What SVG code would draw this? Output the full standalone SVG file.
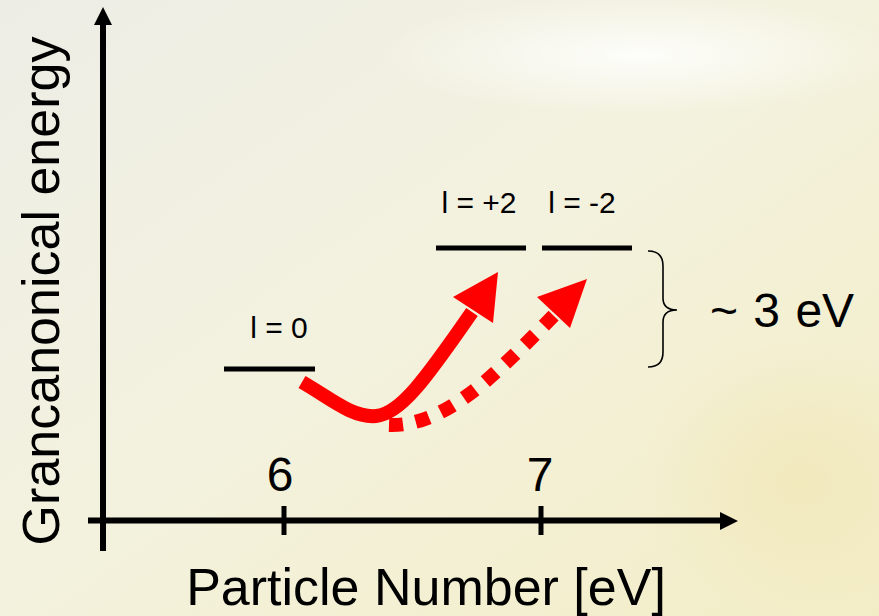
<svg xmlns="http://www.w3.org/2000/svg" width="879" height="616" viewBox="0 0 879 616">
  <defs>
    <linearGradient id="bg" x1="0" y1="0" x2="1" y2="1">
      <stop offset="0" stop-color="#EDEDE6"/>
      <stop offset="0.45" stop-color="#F3F2DF"/>
      <stop offset="1" stop-color="#F3EDC6"/>
    </linearGradient>
    <radialGradient id="glow" cx="0.5" cy="0.5" r="0.5">
      <stop offset="0" stop-color="#FFFFFF" stop-opacity="0.85"/>
      <stop offset="1" stop-color="#FFFFFF" stop-opacity="0"/>
    </radialGradient>
    <radialGradient id="warm" cx="0.5" cy="0.5" r="0.5">
      <stop offset="0" stop-color="#F1E7B8" stop-opacity="0.8"/>
      <stop offset="1" stop-color="#F1E7B8" stop-opacity="0"/>
    </radialGradient>
    <style>
      .ax { stroke: #000; stroke-width: 6; fill: none; }
      .tick { stroke: #000; stroke-width: 5; fill: none; }
      .lvl { stroke: #000; stroke-width: 5; fill: none; }
      .big { font-family: "Liberation Sans", Arial, sans-serif; font-size: 52px; fill: #000; }
      .num { font-family: "Liberation Sans", Arial, sans-serif; font-size: 48px; fill: #000; text-anchor: middle; }
      .lab { font-family: "Liberation Sans", Arial, sans-serif; font-size: 30px; fill: #000; text-anchor: middle; }
      .red { stroke: #FF0000; stroke-width: 14; fill: none; }
      .head { fill: #FF0000; }
    </style>
  </defs>

  <rect width="879" height="616" fill="url(#bg)"/>
  <ellipse cx="640" cy="55" rx="260" ry="60" fill="url(#glow)"/>
  <ellipse cx="800" cy="480" rx="160" ry="140" fill="url(#warm)"/>

  <g id="y-axis">
    <line class="ax" x1="103" y1="551" x2="103" y2="22"/>
    <polygon points="103,7 94,25 112,25" fill="#000"/>
    <text class="big" transform="translate(59,291) rotate(-90)" text-anchor="middle">Grancanonical energy</text>
  </g>

  <g id="x-axis">
    <line class="ax" x1="88" y1="520.5" x2="722" y2="520.5"/>
    <polygon points="738,521 720,512 720,530" fill="#000"/>
    <line class="tick" x1="284" y1="506" x2="284" y2="535"/>
    <line class="tick" x1="541" y1="506" x2="541" y2="535"/>
    <text class="num" x="280" y="491">6</text>
    <text class="num" x="540" y="491">7</text>
    <text class="big" x="426" y="605" text-anchor="middle">Particle Number [eV]</text>
  </g>

  <g id="level-l0">
    <line class="lvl" x1="224" y1="369" x2="315" y2="369"/>
    <text class="lab" x="279" y="338">l = 0</text>
  </g>

  <g id="level-lp2">
    <line class="lvl" x1="436" y1="248" x2="526" y2="248"/>
    <text class="lab" x="479" y="213">l = +2</text>
  </g>

  <g id="level-lm2">
    <line class="lvl" x1="542" y1="248" x2="632" y2="248"/>
    <text class="lab" x="582" y="213">l = -2</text>
  </g>

  <g id="gap-brace">
    <path d="M 648 251 Q 663 251 663 266 L 663 298 Q 663 310 677 310 Q 663 310 663 322 L 663 352 Q 663 367 648 367" stroke="#000" stroke-width="1.6" fill="none"/>
    <text class="big" x="710" y="327" style="font-size:48px" word-spacing="2">~ 3 eV</text>
  </g>

  <g id="connectors">
    <path class="red" d="M 302 382 C 330 398, 352 418, 376 416 C 400 414, 425 380, 472 312"/>
    <polygon class="head" points="498,272 453,297 493,323"/>
    <path class="red" stroke-dasharray="14 13" d="M 389 425 C 420 426, 450 410, 480 386 C 508 362, 532 338, 556 313"/>
    <polygon class="head" points="587,279 537,297 570,328"/>
  </g>
</svg>
